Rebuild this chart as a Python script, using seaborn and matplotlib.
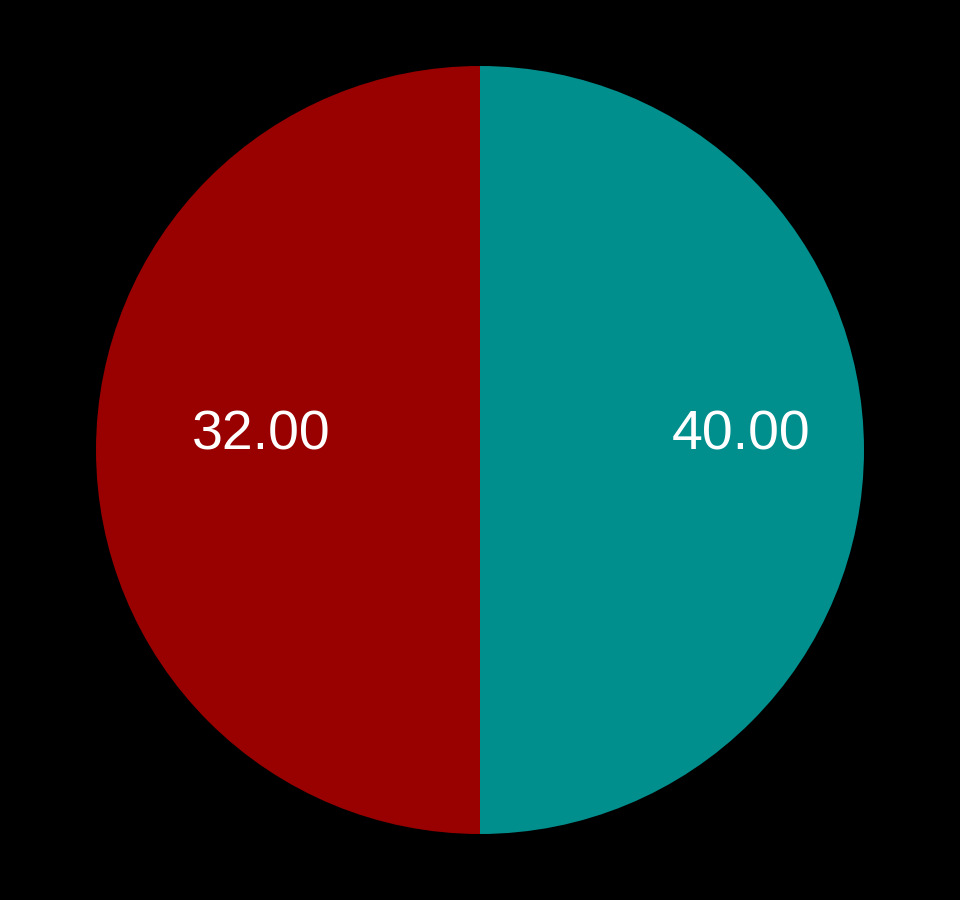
import seaborn as sns
import matplotlib.pyplot as plt
import numpy as np

# slices, clockwise from 12 o'clock
categories = ["B", "A"]
slice_sizes = [1, 1]          # both halves are equal in the picture
label_values = [40.00, 32.00]
palette = sns.color_palette(["#008F8D", "#990000"])

sns.set_theme(style="white")
plt.rcParams['font.family'] = ['Liberation Sans', 'DejaVu Sans']

fig = plt.figure(figsize=(9.6, 9.0), dpi=100, facecolor="black")
ax = fig.add_axes([96 / 960, 66 / 900, 768 / 960, 768 / 900])
ax.set_facecolor("black")

wedges, _ = ax.pie(slice_sizes, colors=palette, startangle=90, counterclock=False,
                   radius=1, wedgeprops=dict(linewidth=0))

# label placement per slice (fraction of radius from centre)
label_dist = [0.68, 0.57]
for w, val, d in zip(wedges, label_values, label_dist):
    ang = np.deg2rad((w.theta1 + w.theta2) / 2)
    ax.text(d * np.cos(ang), d * np.sin(ang), f"{val:.2f}", color="white",
            fontsize=40, ha="center", va="baseline")

ax.set_xlim(-1, 1)
ax.set_ylim(-1, 1)
ax.set_aspect("equal")
ax.axis("off")

fig.savefig("out.png", dpi=100, facecolor="black")
